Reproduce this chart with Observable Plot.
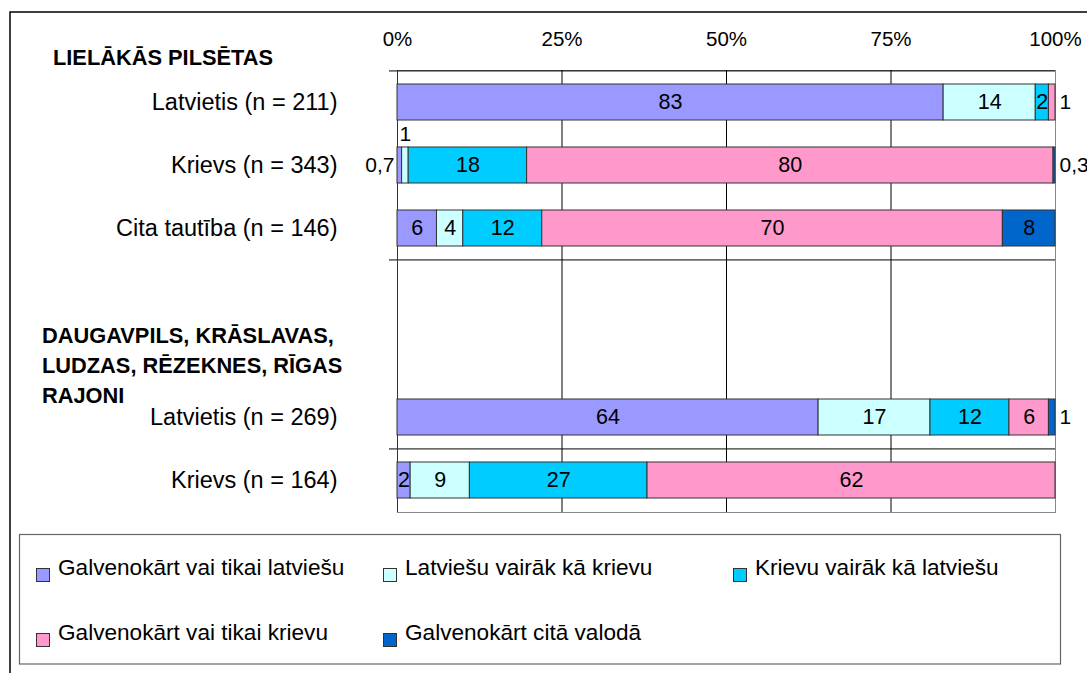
<!DOCTYPE html>
<html><head><meta charset="utf-8">
<script src="https://cdn.jsdelivr.net/npm/d3@7"></script>
<script src="https://cdn.jsdelivr.net/npm/@observablehq/plot@0.6"></script>
<style>
body{margin:0;background:#fff;}
#chart svg{display:block;}
#chart g[aria-label="y-axis tick label"]{font-size:23.5px;}
#chart g[aria-label="x-axis tick label"]{font-size:20.5px;}
</style></head><body><div id="chart"></div>
<script>
// Categories (top to bottom); two empty rows hold the second section header
const categories = ["lv211", "ru343", "other146", "gap1", "gap2", "lv269", "ru164"];
const categoryLabels = ["Latvietis (n = 211)", "Krievs (n = 343)", "Cita tautība (n = 146)", "", "", "Latvietis (n = 269)", "Krievs (n = 164)"];
const dataRows = ["lv211", "ru343", "other146", "lv269", "ru164"];

const series = ["Galvenokārt vai tikai latviešu", "Latviešu vairāk kā krievu", "Krievu vairāk kā latviešu", "Galvenokārt vai tikai krievu", "Galvenokārt citā valodā"];
const colors = ["#9999FF", "#CCFFFF", "#00CCFF", "#FF99CC", "#0066CC"];

// Values per series, in dataRows order (percent)
const mainlyLatvian   = [83, 0.7, 6, 64, 2];
const moreLatvian     = [14, 1, 4, 17, 9];
const moreRussian     = [2, 18, 12, 12, 27];
const mainlyRussian   = [1, 80, 70, 6, 62];
const otherLanguage   = [0, 0.3, 8, 1, 0];

const xTicks = [0, 25, 50, 75, 100];
const sectionHeaders = [["LIELĀKĀS PILSĒTAS"], ["DAUGAVPILS, KRĀSLAVAS,", "LUDZAS, RĒZEKNES, RĪGAS", "RAJONI"]];

const seriesValues = [mainlyLatvian, moreLatvian, moreRussian, mainlyRussian, otherLanguage];
const labelOf = new Map(categories.map((c, i) => [c, categoryLabels[i]]));

const data = [];
dataRows.forEach((cat, r) => {
  let cum = 0;
  series.forEach((s, k) => {
    const v = seriesValues[k][r];
    const x1 = cum, x2 = cum + v;
    cum = x2;
    if (v > 0) {
      const place = v >= 1.5 ? "inside" : (x1 < 0.5 ? "left" : (x2 > 99.5 ? "right" : "above"));
      data.push({cat, series: s, value: v, x1, x2, place, label: String(v).replace(".", ",")});
    }
  });
});

const step = (673 - 161 - 70) / categories.length;
const boundaryRows = [categories[0], categories[3], categories[6]];

const chart = Plot.plot({
  width: 1087,
  height: 673,
  marginLeft: 397,
  marginRight: 32,
  marginTop: 70,
  marginBottom: 161,
  x: {domain: [0, 100]},
  y: {domain: categories, paddingInner: 0.43, paddingOuter: 0.215},
  color: {domain: series, range: colors},
  style: {fontFamily: "'Liberation Sans', Arial, sans-serif", fontSize: "21px", color: "#000", background: "white", overflow: "visible"},
  marks: [
    Plot.frame({stroke: "#888"}),
    Plot.ruleX(xTicks.slice(1, 4), {stroke: "#000", strokeWidth: 1}),
    Plot.ruleY(boundaryRows, {dy: -step / 2, insetLeft: -8, stroke: "#000", strokeWidth: 1}),
    Plot.ruleX([0], {stroke: "#333"}),
    Plot.barX(data, {x1: "x1", x2: "x2", y: "cat", fill: "series", stroke: "#333", strokeWidth: 1}),
    Plot.text(data.filter(d => d.place === "inside"), {x: d => (d.x1 + d.x2) / 2, y: "cat", text: "label", fontSize: 21.5}),
    Plot.text(data.filter(d => d.place === "left"), {x: "x1", y: "cat", text: "label", fontSize: 21, textAnchor: "end", dx: -3}),
    Plot.text(data.filter(d => d.place === "right"), {x: "x2", y: "cat", text: "label", fontSize: 21, textAnchor: "start", dx: 4}),
    Plot.text(data.filter(d => d.place === "above"), {x: d => (d.x1 + d.x2) / 2, y: "cat", text: "label", fontSize: 21, dy: -31}),
    Plot.axisX({anchor: "top", ticks: xTicks, tickFormat: d => d + "%", tickSize: 0, tickPadding: 25, label: null, fontSize: 20.5}),
    Plot.axisY({tickSize: 0, tickPadding: 60, tickFormat: k => labelOf.get(k), label: null, fontSize: 23.5})
  ]
});

document.getElementById("chart").appendChild(chart);

// Decorations: outer frame, section headers, legend
const svg = d3.select(chart);
const deco = svg.append("g")
  .attr("font-family", "'Liberation Sans', Arial, sans-serif")
  .attr("text-anchor", "start")
  .attr("fill", "#000");
deco.append("path").attr("d", "M10,673V12H1087").attr("fill", "none").attr("stroke", "#000").attr("stroke-width", 1.5);

const headerPos = [{x: 53, y: [65]}, {x: 42, y: [343, 373, 403]}];
sectionHeaders.forEach((lines, i) => {
  lines.forEach((t, j) => {
    deco.append("text").attr("x", headerPos[i].x).attr("y", headerPos[i].y[j])
      .attr("text-anchor", "start")
      .attr("font-size", 21.8).attr("font-weight", "bold").text(t);
  });
});

deco.append("rect").attr("x", 19.5).attr("y", 534.5).attr("width", 1041).attr("height", 129.5)
  .attr("fill", "white").attr("stroke", "#666").attr("stroke-width", 1.2);
const colX = [36, 383, 733];
const rowBase = [575, 640];
series.forEach((s, i) => {
  const cx = colX[i % 3], by = rowBase[Math.floor(i / 3)];
  deco.append("rect").attr("x", cx + 0.5).attr("y", by - 6.5).attr("width", 13).attr("height", 13)
    .attr("fill", colors[i]).attr("stroke", "#333").attr("stroke-width", 1);
  deco.append("text").attr("x", cx + 22).attr("y", by).attr("text-anchor", "start").attr("font-size", 22.6).text(s);
});
</script>
</body></html>
